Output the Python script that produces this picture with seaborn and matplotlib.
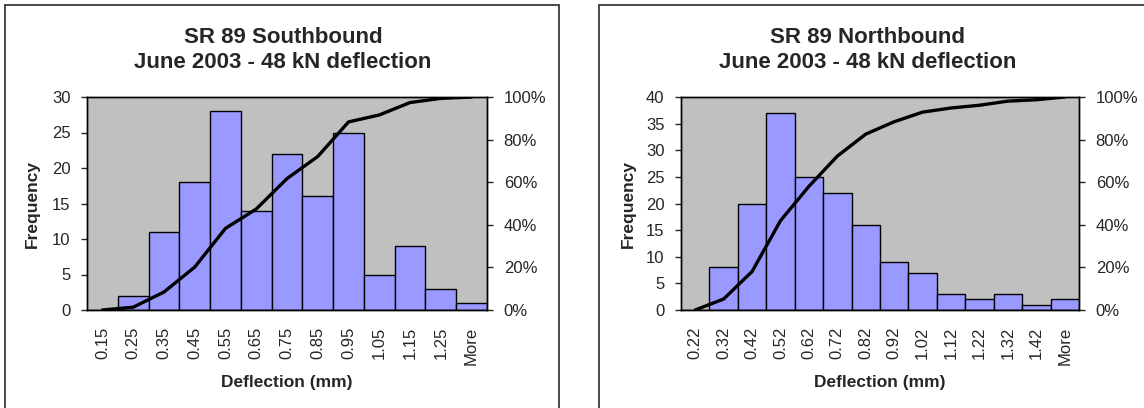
import numpy as np
import pandas as pd
import matplotlib
matplotlib.use("Agg")
import matplotlib.pyplot as plt
from matplotlib.ticker import PercentFormatter, MultipleLocator
from matplotlib.patches import Rectangle
import seaborn as sns

sns.set_style("white")
plt.rcParams["font.family"] = ["Liberation Sans", "DejaVu Sans"]

# Southbound histogram
sb_bins = ["0.15", "0.25", "0.35", "0.45", "0.55", "0.65", "0.75",
           "0.85", "0.95", "1.05", "1.15", "1.25", "More"]
sb_freq = [0, 2, 11, 18, 28, 14, 22, 16, 25, 5, 9, 3, 1]
sb_cum = [0.00, 1.30, 8.44, 20.13, 38.31, 47.40, 61.69,
          72.08, 88.31, 91.56, 97.40, 99.35, 100.00]

# Northbound histogram
nb_bins = ["0.22", "0.32", "0.42", "0.52", "0.62", "0.72", "0.82",
           "0.92", "1.02", "1.12", "1.22", "1.32", "1.42", "More"]
nb_freq = [0, 8, 20, 37, 25, 22, 16, 9, 7, 3, 2, 3, 1, 2]
nb_cum = [0.00, 5.16, 18.06, 41.94, 58.06, 72.26, 82.58,
          88.39, 92.90, 94.84, 96.13, 98.06, 98.71, 100.00]

titles = ["SR 89 Southbound\nJune 2003 - 48 kN deflection",
          "SR 89 Northbound\nJune 2003 - 48 kN deflection"]

W, H = 1144, 408
fig = plt.figure(figsize=(W / 100, H / 100), dpi=100)
fig.patch.set_facecolor("white")


def px_axes(x0, x1, y0, y1):
    return fig.add_axes([x0 / W, 1 - y1 / H, (x1 - x0) / W, (y1 - y0) / H])


def chart_box(x0, x1, y0, y1):
    fig.patches.append(Rectangle((x0 / W, 1 - y1 / H), (x1 - x0) / W, (y1 - y0) / H,
                                 transform=fig.transFigure, fill=False,
                                 edgecolor="#3a3a3a", linewidth=1.3, zorder=0))


def histogram(ax, bins, freq, cum, ymax, ystep):
    df = pd.DataFrame({"bin": bins, "freq": freq})
    ax.set_facecolor("#C0C0C0")
    sns.barplot(data=df, x="bin", y="freq", order=bins, ax=ax, color="#9999FF",
                saturation=1, width=1.0, edgecolor="black", linewidth=1.0)
    ax.set_xlim(-0.5, len(bins) - 0.5)
    ax.set_ylim(0, ymax)
    ax.yaxis.set_major_locator(MultipleLocator(ystep))
    ax.set_xlabel("")
    ax.set_ylabel("")
    for s in ax.spines.values():
        s.set_color("black")
        s.set_linewidth(1.0)
    ax.tick_params(axis="x", length=0, pad=12, labelsize=12, labelrotation=90)
    ax.tick_params(axis="y", direction="out", length=4, width=1, pad=8,
                   labelsize=12, left=True)

    ax2 = ax.twinx()
    sns.lineplot(x=np.arange(len(bins)), y=np.array(cum) / 100, ax=ax2,
                 color="black", linewidth=2.4)
    ax2.set_ylim(0, 1)
    ax2.yaxis.set_major_locator(MultipleLocator(0.2))
    ax2.yaxis.set_major_formatter(PercentFormatter(1.0, decimals=0))
    ax2.tick_params(axis="y", direction="out", length=4, width=1, pad=8,
                    labelsize=12, right=True)
    ax2.set_ylabel("")
    for s in ax2.spines.values():
        s.set_color("black")
        s.set_linewidth(1.0)
    return ax2


# Chart frames
chart_box(5, 559, 5, 420)
chart_box(599, 1150, 5, 420)

# Southbound
ax_l = px_axes(87, 487, 97, 310)
histogram(ax_l, sb_bins, sb_freq, sb_cum, 30, 5)
fig.text(283 / W, 1 - 50 / H, titles[0], ha="center", va="center",
         fontsize=16, fontweight="bold", linespacing=1.3)
fig.text(32 / W, 1 - 204 / H, "Frequency", rotation=90, ha="center", va="center",
         fontsize=12.5, fontweight="bold")
fig.text(287 / W, 1 - 382 / H, "Deflection (mm)", ha="center", va="center",
         fontsize=12.5, fontweight="bold")

# Northbound
ax_r = px_axes(681, 1079, 97, 310)
histogram(ax_r, nb_bins, nb_freq, nb_cum, 40, 5)
fig.text(868 / W, 1 - 50 / H, titles[1], ha="center", va="center",
         fontsize=16, fontweight="bold", linespacing=1.3)
fig.text(628 / W, 1 - 204 / H, "Frequency", rotation=90, ha="center", va="center",
         fontsize=12.5, fontweight="bold")
fig.text(880 / W, 1 - 382 / H, "Deflection (mm)", ha="center", va="center",
         fontsize=12.5, fontweight="bold")

fig.savefig("out.png", dpi=100)
